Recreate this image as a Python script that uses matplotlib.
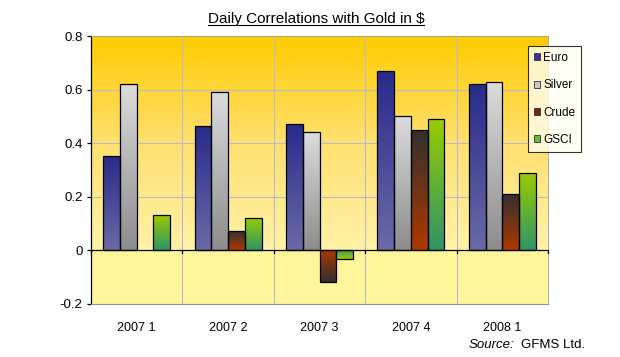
import numpy as np
import matplotlib
matplotlib.use("Agg")
import matplotlib.pyplot as plt
from matplotlib.colors import LinearSegmentedColormap
from matplotlib.patches import Patch
from matplotlib.lines import Line2D

plt.rcParams['font.family'] = ['Liberation Sans', 'DejaVu Sans']

categories = ["2007 1", "2007 2", "2007 3", "2007 4", "2008 1"]
series_names = ["Euro", "Silver", "Crude", "GSCI"]
euro = [0.35, 0.465, 0.47, 0.67, 0.62]
silver = [0.62, 0.59, 0.44, 0.50, 0.63]
crude = [0.0, 0.07, -0.12, 0.45, 0.21]
gsci = [0.13, 0.12, -0.035, 0.49, 0.29]
yticks = [-0.2, 0, 0.2, 0.4, 0.6, 0.8]
ytick_labels = ["-0.2", "0", "0.2", "0.4", "0.6", "0.8"]

series = [euro, silver, crude, gsci]
# (top colour, bottom colour)
grads = [("#2a2a8c", "#6a6aa6"),
         ("#dcdcdc", "#8c8c8c"),
         ("#303030", "#b03800"),
         ("#9acc00", "#2e9468")]
legend_colors = ["#33339a", "#c8c8c8", "#7a2010", "#66bb33"]

fig = plt.figure(figsize=(6.2, 3.57), dpi=100)
fig.patch.set_facecolor("white")
ax = fig.add_axes([91/620, 1-303.5/357, (548-91)/620, (303.5-36.2)/357])

n = len(categories)
x = np.arange(n)
ax.set_xlim(-0.5, n-0.5)
ax.set_ylim(-0.2, 0.8)

# background gradient above zero, pale yellow below
bg = LinearSegmentedColormap.from_list("bg", ["#fff2a8", "#ffe070", "#ffcc00"])
grad = np.linspace(0, 1, 256).reshape(-1, 1)
ax.imshow(grad, extent=[-0.5, n-0.5, 0, 0.8], origin="lower", cmap=bg,
          aspect="auto", zorder=0)
ax.axhspan(-0.2, 0, color="#fff59a", zorder=0, lw=0)

# gridlines
for yv in [0.2, 0.4, 0.6]:
    ax.axhline(yv, color="#b8bcd0", lw=0.8, zorder=1)
for xv in np.arange(0.5, n-0.5, 1):
    ax.axvline(xv, color="#b8bcd0", lw=0.8, zorder=1)

w = 0.183
for i, (vals, (ctop, cbot)) in enumerate(zip(series, grads)):
    offs = (i - 1.5) * w
    bars = ax.bar(x + offs, vals, width=w, facecolor="none",
                  edgecolor="black", lw=0.9, zorder=3)
    cmap = LinearSegmentedColormap.from_list("g%d" % i, [cbot, ctop])
    for b, v in zip(bars, vals):
        if v == 0:
            b.set_visible(False)
            continue
        x0 = b.get_x()
        y0 = b.get_y()
        hgt = b.get_height()
        y_lo, y_hi = min(y0, y0 + hgt), max(y0, y0 + hgt)
        g = grad if v > 0 else grad[::-1]
        im = ax.imshow(g, extent=[x0, x0 + b.get_width(), y_lo, y_hi],
                       origin="lower", cmap=cmap, aspect="auto", zorder=2)
        im.set_clip_path(b)

ax.set_xlim(-0.5, n-0.5)
ax.set_ylim(-0.2, 0.8)

# zero axis line with ticks
ax.axhline(0, color="black", lw=0.9, zorder=4)
for xv in np.arange(-0.5, n, 1):
    ax.plot([xv, xv], [0, -0.012], color="black", lw=0.9, zorder=4,
            clip_on=False)

ax.set_yticks(yticks)
ax.set_yticklabels(ytick_labels, fontsize=9.5)
ax.set_xticks(x)
ax.set_xticklabels(categories, fontsize=9)
ax.tick_params(axis="x", length=0, pad=13)
ax.tick_params(axis="y", length=3, width=0.9, pad=3)

for s in ["top", "right"]:
    ax.spines[s].set_color("#a0a0a0")
    ax.spines[s].set_linewidth(0.6)
ax.spines["bottom"].set_color("#909090")
ax.spines["bottom"].set_linewidth(0.8)
ax.spines["left"].set_color("black")
ax.spines["left"].set_linewidth(0.9)

handles = [Patch(facecolor=c, edgecolor="#333333", lw=0.6) for c in legend_colors]
leg = fig.legend(handles, series_names, loc="upper left",
                 bbox_to_anchor=(528/620, 1-46/357), fontsize=8.5,
                 frameon=True, fancybox=False, handlelength=0.55,
                 handleheight=0.55, handletextpad=0.25, labelspacing=1.3,
                 borderpad=0.5, borderaxespad=0)
leg.get_frame().set_edgecolor("black")
leg.get_frame().set_linewidth(0.8)
leg.get_frame().set_facecolor("#fffff0")
leg.set_zorder(10)

# title with underline
t = fig.text(316/620, 1-18.5/357, "Daily Correlations with Gold in $",
             ha="center", va="center", fontsize=11)
fig.canvas.draw()
bb = t.get_window_extent().transformed(fig.transFigure.inverted())
fig.add_artist(Line2D([bb.x0, bb.x1], [bb.y0 + 0.002, bb.y0 + 0.002],
                      transform=fig.transFigure, color="black", lw=0.8))

# source note
s1 = fig.text(469/620, 1-345/357, "Source:", style="italic", fontsize=9.5,
              ha="left", va="center")
fig.canvas.draw()
bb1 = s1.get_window_extent().transformed(fig.transFigure.inverted())
fig.text(bb1.x1 + 6/620, 1-345/357, "GFMS Ltd.", fontsize=9.5,
         ha="left", va="center")

fig.savefig("out.png", dpi=100)
